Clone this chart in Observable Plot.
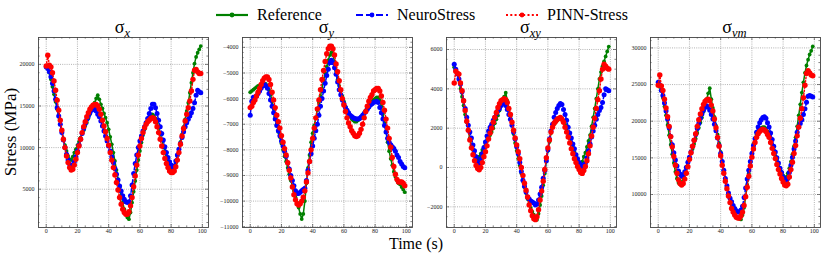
<!DOCTYPE html>
<html><head><meta charset="utf-8">
<script src="https://cdn.jsdelivr.net/npm/d3@7"></script>
<script src="https://cdn.jsdelivr.net/npm/@observablehq/plot@0.6"></script>
<style>
body{margin:0;background:#fff;}
#root{position:relative;width:822px;height:253px;overflow:hidden;font-family:"Liberation Serif","Times New Roman",serif;color:#000;}
.abs{position:absolute;}
.title{position:absolute;top:20.5px;transform:translateX(-50%);font-size:18px;line-height:13px;white-space:nowrap;}
.title .sb{position:relative;top:4px;font-style:italic;font-size:12.5px;}
.leg{position:absolute;top:8.5px;height:13px;display:flex;align-items:center;font-size:16px;line-height:12px;white-space:nowrap;}
.leg svg{margin-right:8px;}
</style></head><body><div id="root"></div>
<script>
// ---------- data ----------
const time = Array.from({length: 100}, (_, i) => i);
const seriesNames = ["Reference", "NeuroStress", "PINN-Stress"];
const panelTitles = [["σ", "x"], ["σ", "y"], ["σ", "xy"], ["σ", "vm"]];
const xTicks = [0, 20, 40, 60, 80, 100];

const sxRef = [19800,19600,19000,18200,17300,16400,15500,14600,13700,12800,
 11900,11100,10300,9600,9000,8600,8500,8900,9400,9800,
 10300,10700,11200,11700,12100,12600,13000,13500,14000,14500,
 14900,15400,15900,16300,15800,15200,14700,14100,13600,13000,
 12200,11300,10400,9400,8400,7300,6200,5200,4300,3400,
 2600,2000,1600,1400,2200,3400,4700,6000,7300,8500,
 9600,10600,11500,12200,12800,13200,13600,13900,14000,13800,
 13500,13000,12400,11700,11000,10200,9500,8900,8300,7800,
 7400,7300,7500,8100,9000,9800,10700,11600,12500,13400,
 14400,15400,16600,17800,19000,20100,20900,21400,21800,22200];
const sxNeuro = [19700,19500,19100,18500,17700,16800,15800,14800,13800,12800,
 11800,10900,10000,9200,8500,8000,7800,7900,8300,8900,
 9600,10300,11000,11700,12300,12900,13400,13800,14200,14500,
 14600,14600,14400,14000,13700,13200,12600,12000,11400,10800,
 10200,9600,8900,8200,7500,6800,6100,5400,4800,4200,
 3800,3500,3400,3500,4200,5500,6900,8100,9100,10000,
 10800,11400,12000,12500,13000,13500,14100,14700,15200,15200,
 14800,14100,13300,12500,11700,10900,10100,9400,8800,8300,
 7900,7700,7800,8400,9100,9800,10500,11200,11900,12500,
 13000,13400,13800,14200,14700,15400,16300,16900,16700,16600];
const sxPinn = [19800,21100,19900,19700,19000,18000,16900,15700,14500,13300,
 12100,11000,10000,9000,8200,7600,7300,7400,7900,8600,
 9400,10200,11000,11800,12500,13100,13700,14200,14600,14900,
 15100,15200,15200,15000,14600,14000,13300,12600,11900,11100,
 10300,9400,8500,7600,6700,5800,4900,4000,3200,2600,
 2200,2000,2000,2300,3000,4000,5300,6600,7900,9100,
 10200,11100,11800,12400,12800,13100,13300,13500,13600,13500,
 13100,12500,11800,11000,10200,9400,8700,8100,7600,7200,
 7000,7000,7200,7700,8500,9400,10400,11400,12300,13200,
 14000,14800,15600,16800,18200,19300,19400,19100,18900,18900];

const syRef = [-5750,-5700,-5650,-5600,-5550,-5500,-5480,-5450,-5430,-5420,
 -5430,-5500,-5650,-5850,-6100,-6400,-6700,-7000,-7300,-7500,
 -7750,-8000,-8250,-8450,-8700,-8950,-9200,-9400,-9600,-9850,
 -10050,-10250,-10500,-10700,-10500,-10000,-9300,-8700,-8200,-7700,
 -7350,-7050,-6750,-6450,-6150,-5900,-5600,-5300,-5000,-4750,
 -4500,-4300,-4200,-4300,-4550,-4900,-5250,-5500,-5700,-5900,
 -6100,-6300,-6450,-6600,-6700,-6800,-6850,-6900,-6900,-6850,
 -6800,-6750,-6650,-6550,-6450,-6350,-6250,-6150,-6100,-6050,
 -6000,-5950,-5950,-6050,-6300,-6600,-6950,-7300,-7700,-8050,
 -8350,-8600,-8850,-9050,-9200,-9300,-9350,-9450,-9550,-9650];
const syNeuro = [-6650,-6100,-5950,-5950,-5900,-5800,-5700,-5600,-5500,-5450,
 -5500,-5600,-5800,-6050,-6300,-6550,-6800,-7050,-7250,-7450,
 -7650,-7850,-8050,-8250,-8500,-8750,-9000,-9200,-9400,-9600,
 -9700,-9700,-9650,-9600,-9550,-9500,-9200,-8800,-8450,-8150,
 -7850,-7550,-7250,-7000,-6650,-6300,-6000,-5700,-5400,-5100,
 -4850,-4600,-4500,-4600,-4800,-5050,-5350,-5650,-5850,-6050,
 -6200,-6350,-6450,-6550,-6650,-6700,-6750,-6780,-6800,-6800,
 -6780,-6720,-6650,-6580,-6500,-6420,-6330,-6250,-6200,-6150,
 -6120,-6100,-6150,-6350,-6550,-6800,-7050,-7300,-7550,-7700,
 -7800,-7880,-7950,-8050,-8200,-8300,-8450,-8550,-8650,-8700];
const syPinn = [-6350,-6300,-6150,-6050,-5900,-5750,-5600,-5450,-5300,-5200,
 -5150,-5150,-5250,-5450,-5750,-6050,-6350,-6650,-6900,-7150,
 -7450,-7700,-7950,-8200,-8500,-8800,-9100,-9450,-9750,-9950,
 -10100,-10150,-10100,-10000,-9850,-9600,-9250,-8900,-8450,-8000,
 -7550,-7150,-6750,-6400,-6050,-5650,-5250,-4900,-4550,-4250,
 -4050,-3950,-3950,-4050,-4300,-4650,-4950,-5300,-5650,-6000,
 -6250,-6500,-6750,-6950,-7100,-7250,-7350,-7450,-7480,-7450,
 -7350,-7200,-7000,-6750,-6500,-6300,-6100,-5950,-5850,-5700,
 -5650,-5600,-5600,-5700,-5900,-6150,-6450,-6800,-7150,-7550,
 -7900,-8300,-8650,-8950,-9150,-9250,-9250,-9250,-9300,-9400];

const sxyRef = [5100,4950,4800,4450,4000,3600,3150,2700,2300,1900,
 1500,1150,900,650,450,400,550,700,900,1050,
 1200,1350,1500,1650,1800,2000,2250,2450,2650,2900,
 3150,3400,3600,3800,3400,3000,2600,2150,1700,1250,
 850,450,100,-300,-700,-1000,-1300,-1600,-1850,-2050,
 -2250,-2400,-2550,-2650,-2350,-1900,-1450,-900,-300,300,
 850,1300,1750,2050,2200,2300,2400,2450,2500,2500,
 2400,2200,2000,1750,1500,1250,1000,800,600,400,
 250,150,300,550,750,1050,1350,1650,2100,2550,
 3000,3500,4000,4500,4850,5150,5400,5650,5900,6150];
const sxyNeuro = [5250,5000,4750,4500,4250,3850,3400,3000,2550,2150,
 1800,1500,1150,850,550,250,200,450,700,1000,
 1300,1600,1850,2050,2200,2400,2550,2750,2900,3000,
 3150,3250,3300,3150,2950,2700,2450,2150,1800,1450,
 1050,700,250,-200,-650,-950,-1250,-1500,-1600,-1700,
 -1750,-1800,-1900,-1850,-1650,-1350,-1000,-550,-150,350,
 900,1450,1850,2200,2550,2800,3000,3150,3250,3200,
 2950,2700,2400,2050,1750,1500,1200,950,650,450,
 250,150,50,0,200,500,850,1200,1550,1850,
 2150,2450,2700,2900,3050,3300,3700,4000,3950,3900];
const sxyPinn = [4300,4900,4800,4750,4300,3900,3400,2900,2350,1900,
 1400,1000,650,350,100,-50,-120,0,250,550,
 800,1100,1450,1750,2000,2300,2550,2800,3050,3250,
 3400,3450,3500,3450,3300,3000,2700,2300,1900,1500,
 1150,800,450,0,-400,-800,-1150,-1500,-1900,-2200,
 -2450,-2600,-2650,-2500,-2150,-1650,-1200,-700,-100,500,
 1000,1400,1800,2050,2250,2350,2450,2500,2550,2450,
 2300,2050,1800,1550,1250,950,700,450,250,50,
 -100,-250,-300,-150,50,350,700,1100,1600,2050,
 2500,3000,3450,3900,4500,5000,5250,5150,5050,5000];

const svmRef = [25000,24700,24200,23200,22000,20800,19500,18100,16800,15500,
 14300,13100,12200,11600,11400,11700,12300,13000,13800,14400,
 15000,15600,16200,16900,17600,18400,19100,19800,20500,21300,
 22100,23000,23800,24500,23000,21800,20600,19400,18200,17000,
 15800,14500,13300,12100,10900,9900,9000,8300,7700,7300,
 7000,6800,6700,6600,7200,8200,9700,11300,12900,14400,
 15700,16900,17700,18200,18600,18900,19100,19200,19200,19000,
 18600,18100,17500,16800,16100,15300,14700,14100,13600,13100,
 12600,12300,12400,12900,13600,14500,15500,16600,17800,19300,
 20800,22300,23900,25300,26600,27600,28400,29100,29600,30200];
const svmNeuro = [25300,24900,24200,23500,22500,21400,20300,19100,17900,16800,
 15700,14700,13900,13200,12800,12500,12700,13100,13700,14400,
 15100,15800,16600,17400,18200,19000,19700,20400,21000,21500,
 21900,22100,21900,21500,20900,20300,19600,18700,17700,16700,
 15600,14500,13300,12200,11200,10200,9500,9000,8500,8100,
 7800,7600,7600,7900,8400,9600,10900,12100,13300,14500,
 15600,16700,17600,18500,19200,19800,20200,20500,20600,20400,
 19800,19200,18400,17500,16600,15800,15000,14300,13600,13000,
 12400,12000,11900,12200,13000,14000,15100,16200,17300,18500,
 19200,19700,20200,20900,21700,22600,23400,23500,23400,23300];
const svmPinn = [24900,26300,24800,24200,23000,21800,20600,19300,17900,16500,
 15200,14000,12900,12000,11500,11300,11500,12100,12900,13800,
 14800,15700,16600,17400,18300,19300,20200,21000,21700,22300,
 22700,22900,23000,22800,22200,21400,20300,19100,17800,16600,
 15300,14000,12900,11800,10800,9800,8900,8100,7600,7200,
 6900,6800,6800,7100,7600,8500,9700,11000,12500,13900,
 15100,16200,17100,17800,18300,18600,18800,18900,18800,18600,
 18200,17800,17100,16300,15600,14900,14100,13400,12800,12200,
 11700,11300,11200,11400,12400,13400,14400,15600,16700,18000,
 19200,20400,21700,23200,24900,26500,26900,26600,26300,26200];

const panelSeries = [
  [sxRef, sxNeuro, sxPinn],
  [syRef, syNeuro, syPinn],
  [sxyRef, sxyNeuro, sxyPinn],
  [svmRef, svmNeuro, svmPinn]
];
const yDomains = [[400, 23230], [-11030, -3615], [-3050, 6610], [5500, 31420]];
const yMajorSteps = [5000, 1000, 2000, 5000];
const yMinorSteps = [1000, 200, 500, 1000];

// ---------- layout / style ----------
const colors = ["#008000", "#0000ff", "#ff0000"];
const dashes = [null, "5,2.5", "1.2,2"];
const radii = [1.9, 2.5, 2.7];
const FW = 170, FH = 190, ML = 30, MR = 4, MT = 4, MB = 14;
const lefts = [37.5, 241.5, 445.5, 649.5];
const frameTop = 36.7;
const fmt = d => String(d).replace("-", "\u2212");

const root = document.getElementById("root");

function range(a, b, s) { const out = []; for (let v = Math.ceil(a / s) * s; v <= b + 1e-9; v += s) out.push(Math.round(v)); return out; }

function inward(ticks, axis, len) {
  const o = {stroke: "#333", strokeWidth: 0.6};
  if (axis === "x") return [
    Plot.tickX(ticks, {x: d => d, insetTop: FH - len, ...o}),
    Plot.tickX(ticks, {x: d => d, insetBottom: FH - len, ...o})
  ];
  return [
    Plot.tickY(ticks, {y: d => d, insetRight: FW - len, ...o}),
    Plot.tickY(ticks, {y: d => d, insetLeft: FW - len, ...o})
  ];
}

const xDomain = [-4.95, 103.95];
panelSeries.forEach((series, i) => {
  const dom = yDomains[i];
  const yMaj = range(dom[0], dom[1], yMajorSteps[i]);
  const yMin = range(dom[0], dom[1], yMinorSteps[i]).filter(v => !yMaj.includes(v));
  const xMin = range(xDomain[0], xDomain[1], 5).filter(v => !xTicks.includes(v));
  const marks = [
    Plot.gridX(xTicks, {stroke: "#888", strokeOpacity: 0.9, strokeWidth: 0.7, strokeDasharray: "1,1.2"}),
    Plot.gridY(yMaj, {stroke: "#888", strokeOpacity: 0.9, strokeWidth: 0.7, strokeDasharray: "1,1.2"}),
    ...inward(xTicks, "x", 3), ...inward(xMin, "x", 1.6),
    ...inward(yMaj, "y", 3), ...inward(yMin, "y", 1.6),
    Plot.axisX(xTicks, {anchor: "bottom", tickSize: 0, tickPadding: 1.6, fontSize: 6, tickFormat: fmt, label: null, fill: "#222"}),
    Plot.axisY(yMaj, {anchor: "left", tickSize: 0, tickPadding: 4, fontSize: 6, tickFormat: fmt, label: null, fill: "#222"})
  ];
  series.forEach((vals, k) => {
    const rows = time.map((t, j) => ({t, v: vals[j]}));
    marks.push(Plot.line(rows, {x: "t", y: "v", stroke: colors[k], strokeWidth: 1.5, strokeDasharray: dashes[k]}));
    marks.push(Plot.dot(rows, {x: "t", y: "v", r: radii[k], fill: colors[k], stroke: "none"}));
  });
  marks.push(Plot.frame({stroke: "#444", strokeWidth: 0.9}));
  const svg = Plot.plot({
    width: FW + ML + MR, height: FH + MT + MB,
    marginLeft: ML, marginRight: MR, marginTop: MT, marginBottom: MB,
    x: {domain: xDomain},
    y: {domain: dom},
    style: {fontFamily: "Liberation Serif, serif", background: "transparent", overflow: "visible"},
    marks
  });
  svg.style.position = "absolute";
  svg.style.left = (lefts[i] - ML) + "px";
  svg.style.top = (frameTop - MT) + "px";
  svg.style.maxWidth = "none";
  root.appendChild(svg);

  const t = document.createElement("div");
  t.className = "title";
  t.style.left = (lefts[i] + FW / 2) + "px";
  t.innerHTML = panelTitles[i][0] + '<span class="sb">' + panelTitles[i][1] + "</span>";
  root.appendChild(t);
});

// legend
const legLefts = [215, 355, 505];
seriesNames.forEach((name, k) => {
  const d = document.createElement("div");
  d.className = "leg";
  d.style.left = legLefts[k] + "px";
  const dash = dashes[k] ? ` stroke-dasharray="${k === 1 ? "7,3" : "2,2.3"}"` : "";
  d.innerHTML = `<svg width="34" height="10"><line x1="1" x2="33" y1="5" y2="5" stroke="${colors[k]}" stroke-width="2.2"${dash}/><circle cx="17" cy="5" r="2.4" fill="${colors[k]}"/></svg><span>${name}</span>`;
  root.appendChild(d);
});

// axis labels
const yl = document.createElement("div");
yl.className = "abs";
yl.style.cssText = "left:9.5px;top:132px;font-size:17px;white-space:nowrap;transform:translate(-50%,-50%) rotate(-90deg);line-height:17px;";
yl.textContent = "Stress (MPa)";
root.appendChild(yl);
const xl = document.createElement("div");
xl.className = "abs";
xl.style.cssText = "left:416px;top:239.6px;font-size:16px;white-space:nowrap;transform:translateX(-50%);line-height:8px;";
xl.textContent = "Time (s)";
root.appendChild(xl);
</script></body></html>
